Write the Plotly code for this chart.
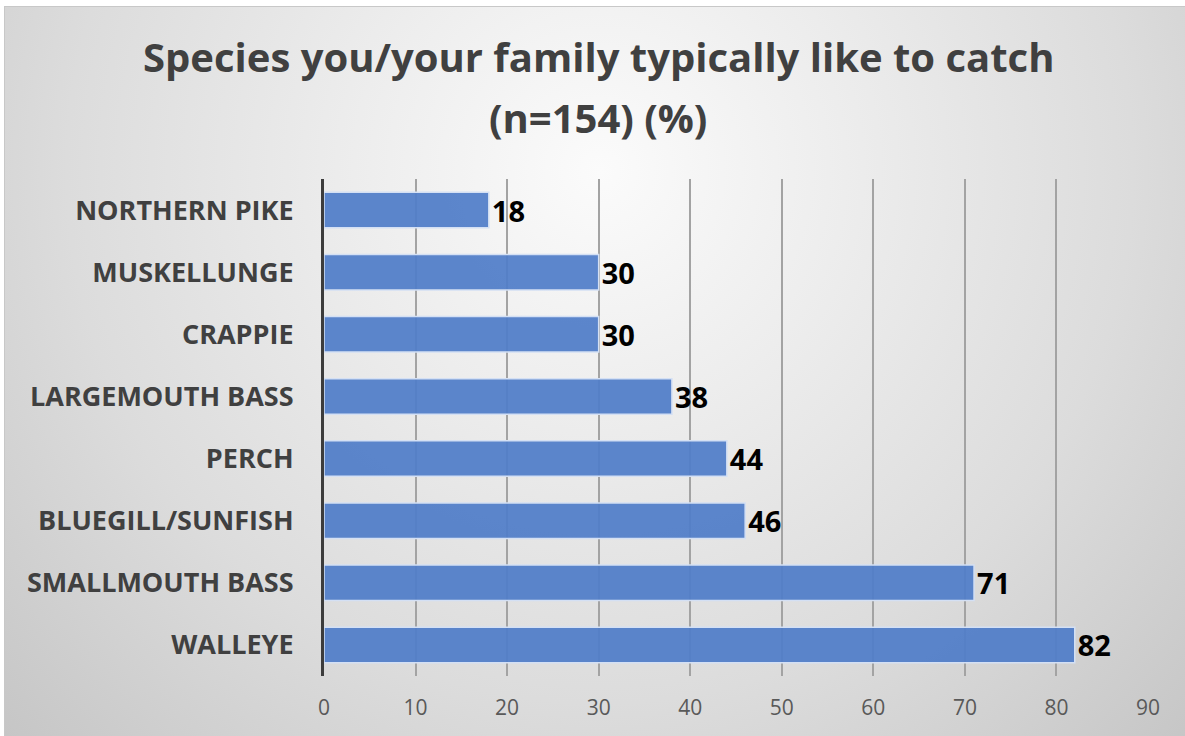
import base64
import plotly.graph_objects as go

# ---- data ----
categories = ["WALLEYE", "SMALLMOUTH BASS", "BLUEGILL/SUNFISH", "PERCH",
              "LARGEMOUTH BASS", "CRAPPIE", "MUSKELLUNGE", "NORTHERN PIKE"]
values = [82, 71, 46, 44, 38, 30, 30, 18]
x_ticks = [0, 10, 20, 30, 40, 50, 60, 70, 80, 90]
title_lines = ["Species you/your family typically like to catch", "(n=154) (%)"]

# ---- layout geometry ----
W, H = 1185, 736
ML, MR, MT, MB = 324, 37, 179, 60
PW, PH = W - ML - MR, H - MT - MB


def py(px):
    """pixel row (from top of figure) -> paper y"""
    return (H - MB - px) / PH


svg = f'''<svg xmlns="http://www.w3.org/2000/svg" width="{W}" height="{H}" viewBox="0 0 {W} {H}">
<defs><radialGradient id="g" gradientUnits="userSpaceOnUse" cx="600" cy="170" r="820">
<stop offset="0" stop-color="#fbfbfb"/>
<stop offset="0.3" stop-color="#ededed"/>
<stop offset="0.65" stop-color="#dcdcdc"/>
<stop offset="1" stop-color="#c6c6c6"/>
</radialGradient></defs>
<rect x="0" y="0" width="{W}" height="{H}" fill="#ffffff"/>
<rect x="4.5" y="6.5" width="{W}" height="{H}" fill="url(#g)" stroke="#c8c8c8" stroke-width="1"/>
</svg>'''
bg_src = "data:image/svg+xml;base64," + base64.b64encode(svg.encode()).decode()

fig = go.Figure()
fig.add_trace(go.Bar(
    y=categories, x=values, orientation="h",
    marker=dict(color="rgba(80,125,200,0.93)", line=dict(color="#d4e0f4", width=1.5)),
    width=0.57,
    text=values, texttemplate="%{x}", textposition="outside", constraintext="none",
    textfont=dict(family="Open Sans", size=29, color="#000000", weight="bold"),
    cliponaxis=False, hoverinfo="skip",
))

title_font = dict(family="Open Sans", size=40, color="#404040", weight="bold")
annotations = [
    dict(text=title_lines[0], xref="paper", yref="paper", x=(598 - ML) / PW, y=py(57),
         xanchor="center", yanchor="middle", showarrow=False, font=title_font),
    dict(text=title_lines[1], xref="paper", yref="paper", x=(598 - ML) / PW, y=py(117),
         xanchor="center", yanchor="middle", showarrow=False, font=title_font),
]

fig.update_layout(
    width=W, height=H,
    margin=dict(l=ML, r=MR, t=MT, b=MB, pad=0),
    paper_bgcolor="#ffffff", plot_bgcolor="rgba(0,0,0,0)",
    showlegend=False,
    annotations=annotations,
    images=[dict(source=bg_src, xref="paper", yref="paper",
                 x=-ML / PW, y=1 + MT / PH, sizex=W / PW, sizey=H / PH,
                 xanchor="left", yanchor="top", sizing="stretch", layer="below")],
    xaxis=dict(range=[0, 90], tickvals=x_ticks, showgrid=True, gridcolor="#a3a3a3",
               gridwidth=1.5, zeroline=False, showline=False, ticks="",
               ticklabelstandoff=17,
               tickfont=dict(family="Open Sans", size=21, color="#595959")),
    yaxis=dict(showgrid=False, zeroline=False, showline=True, linecolor="#3c3c3c",
               linewidth=3, ticks="", ticklabelstandoff=22,
               categoryorder="array", categoryarray=categories,
               tickfont=dict(family="Open Sans", size=27, color="#404040", weight="bold")),
    bargap=0.43,
)

fig.write_html("out.html", config={"displayModeBar": False},
               post_script="document.body.style.margin='0';")
